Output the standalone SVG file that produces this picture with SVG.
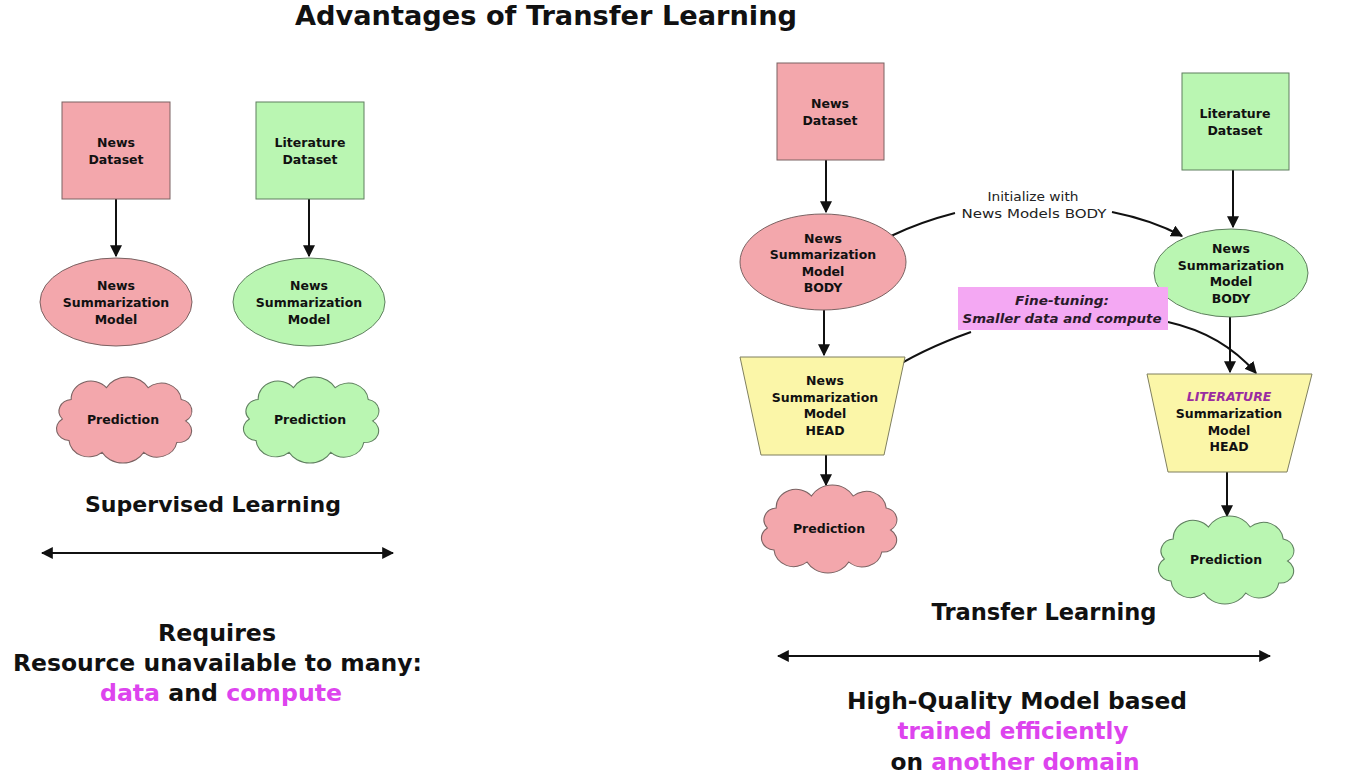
<svg xmlns="http://www.w3.org/2000/svg" width="1351" height="778" viewBox="0 0 1351 778">
<style>
  text { font-family: "DejaVu Sans", "Liberation Sans", sans-serif; fill: #111; }
  .node { font-size: 12.5px; font-weight: bold; text-anchor: middle; }
  .big { font-size: 23.5px; font-weight: bold; text-anchor: middle; }
  .mag { fill: #dd44ee; }
  .pink { fill: #f3a7ac; stroke: #7a6262; stroke-width: 1; }
  .green { fill: #baf6b2; stroke: #5f7f5f; stroke-width: 1; }
  .yellow { fill: #fbf6a8; stroke: #7f7f5f; stroke-width: 1; }
  .edge { fill: none; stroke: #111; stroke-width: 2; }
  .lbl { font-size: 12.5px; text-anchor: middle; fill: #222; }
  .ft { font-size: 13px; font-weight: bold; font-style: italic; text-anchor: middle; fill: #2a1a2a; }
</style>
<defs>
  <marker id="ah" viewBox="0 0 10 10" refX="9" refY="5" markerWidth="6" markerHeight="6" orient="auto-start-reverse" markerUnits="strokeWidth">
    <path d="M0 0 L10 5 L0 10 z" fill="#111"/>
  </marker>
  <path id="cloud" d="M -48 -20 A 18 18 0 0 1 -16 -32 A 22 22 0 0 1 22 -32 A 18 18 0 0 1 52 -20 A 12 12 0 0 1 56 2 A 12 12 0 0 1 48 24 A 18 18 0 0 1 18 34 A 22 22 0 0 1 -20 34 A 18 18 0 0 1 -50 22 A 12 12 0 0 1 -56 0 A 12 12 0 0 1 -48 -20 Z"/>
</defs>
<rect width="1351" height="778" fill="#ffffff"/>

<text x="546" y="25" textLength="502" lengthAdjust="spacingAndGlyphs" style="font-size:27px;font-weight:bold;text-anchor:middle">Advantages of Transfer Learning</text>

<g id="connectors">
  <line class="edge" x1="116" y1="199" x2="116" y2="256" marker-end="url(#ah)"/>
  <line class="edge" x1="309" y1="199" x2="309" y2="256" marker-end="url(#ah)"/>
  <line class="edge" x1="826" y1="160" x2="826" y2="212" marker-end="url(#ah)"/>
  <line class="edge" x1="824" y1="310" x2="824" y2="355" marker-end="url(#ah)"/>
  <line class="edge" x1="826" y1="455" x2="826" y2="485" marker-end="url(#ah)"/>
  <line class="edge" x1="1233" y1="170" x2="1233" y2="227" marker-end="url(#ah)"/>
  <line class="edge" x1="1230" y1="317" x2="1230" y2="372" marker-end="url(#ah)"/>
  <line class="edge" x1="1227" y1="472" x2="1227" y2="516" marker-end="url(#ah)"/>
  <path class="edge" d="M 891 236 Q 920 222 955 213"/>
  <path class="edge" d="M 1112 212 Q 1152 220 1182 236" marker-end="url(#ah)"/>
  <path class="edge" d="M 971 332 Q 920 350 884 374"/>
  <path class="edge" d="M 1168 322 Q 1222 334 1256 373" marker-end="url(#ah)"/>
  <line class="edge" x1="42" y1="553" x2="393" y2="553" marker-start="url(#ah)" marker-end="url(#ah)"/>
  <line class="edge" x1="778" y1="656" x2="1270" y2="656" marker-start="url(#ah)" marker-end="url(#ah)"/>
</g>

<g id="sl-news-dataset">
  <rect class="pink" x="62" y="102" width="108" height="97"/>
  <text class="node" x="116" y="147">News</text>
  <text class="node" x="116" y="164">Dataset</text>
</g>
<g id="sl-lit-dataset">
  <rect class="green" x="256" y="102" width="108" height="97"/>
  <text class="node" x="310" y="147">Literature</text>
  <text class="node" x="310" y="164">Dataset</text>
</g>
<g id="sl-news-model">
  <ellipse class="pink" cx="116" cy="302" rx="76" ry="44"/>
  <text class="node" x="116" y="290">News</text>
  <text class="node" x="116" y="307">Summarization</text>
  <text class="node" x="116" y="324">Model</text>
</g>
<g id="sl-lit-model">
  <ellipse class="green" cx="309" cy="302" rx="76" ry="44"/>
  <text class="node" x="309" y="290">News</text>
  <text class="node" x="309" y="307">Summarization</text>
  <text class="node" x="309" y="324">Model</text>
</g>
<g id="sl-news-pred">
  <use href="#cloud" class="pink" transform="translate(124,419) scale(1.1,0.98)"/>
  <text class="node" x="123" y="424">Prediction</text>
</g>
<g id="sl-lit-pred">
  <use href="#cloud" class="green" transform="translate(311,419) scale(1.1,0.98)"/>
  <text class="node" x="310" y="424">Prediction</text>
</g>

<g id="sl-labels">
  <text class="big" x="213" y="512" textLength="256" lengthAdjust="spacingAndGlyphs" style="font-size:22px">Supervised Learning</text>
  <text class="big" x="217" y="641" textLength="118" lengthAdjust="spacingAndGlyphs">Requires</text>
  <text class="big" x="217.5" y="671" textLength="409" lengthAdjust="spacingAndGlyphs">Resource unavailable to many:</text>
  <text class="big" x="221" y="701" textLength="242" lengthAdjust="spacingAndGlyphs"><tspan class="mag">data</tspan> and <tspan class="mag">compute</tspan></text>
</g>

<g id="tl-news-dataset">
  <rect class="pink" x="777" y="63" width="107" height="97"/>
  <text class="node" x="830" y="108">News</text>
  <text class="node" x="830" y="125">Dataset</text>
</g>
<g id="tl-news-body">
  <ellipse class="pink" cx="823" cy="262" rx="83" ry="48"/>
  <text class="node" x="823" y="243">News</text>
  <text class="node" x="823" y="259">Summarization</text>
  <text class="node" x="823" y="276">Model</text>
  <text class="node" x="823" y="292">BODY</text>
</g>
<g id="tl-news-head">
  <polygon class="yellow" points="740,357 905,357 884,455 761,455"/>
  <text class="node" x="825" y="385">News</text>
  <text class="node" x="825" y="402">Summarization</text>
  <text class="node" x="825" y="418">Model</text>
  <text class="node" x="825" y="435">HEAD</text>
</g>
<g id="tl-news-pred">
  <use href="#cloud" class="pink" transform="translate(829,528) scale(1.1,1.0)"/>
  <text class="node" x="829" y="533">Prediction</text>
</g>
<g id="tl-lit-dataset">
  <rect class="green" x="1182" y="73" width="107" height="97"/>
  <text class="node" x="1235" y="118">Literature</text>
  <text class="node" x="1235" y="135">Dataset</text>
</g>
<g id="tl-lit-body">
  <ellipse class="green" cx="1231" cy="273" rx="77" ry="44"/>
  <text class="node" x="1231" y="253">News</text>
  <text class="node" x="1231" y="270">Summarization</text>
  <text class="node" x="1231" y="286">Model</text>
  <text class="node" x="1231" y="303">BODY</text>
</g>
<g id="tl-lit-head">
  <polygon class="yellow" points="1147,374 1312,374 1287,472 1168,472"/>
  <text class="node" x="1229" y="401" style="font-style:italic;fill:#9a2ca0">LITERATURE</text>
  <text class="node" x="1229" y="418">Summarization</text>
  <text class="node" x="1229" y="435">Model</text>
  <text class="node" x="1229" y="451">HEAD</text>
</g>
<g id="tl-lit-pred">
  <use href="#cloud" class="green" transform="translate(1226,559) scale(1.1,1.0)"/>
  <text class="node" x="1226" y="564">Prediction</text>
</g>
<g id="init-label">
  <text class="lbl" x="1033" y="201" textLength="91" lengthAdjust="spacingAndGlyphs">Initialize with</text>
  <text class="lbl" x="1034" y="218" textLength="145" lengthAdjust="spacingAndGlyphs">News Models BODY</text>
</g>
<g id="finetune-label">
  <rect x="958" y="287" width="210" height="43" fill="#f4a8f3"/>
  <text class="ft" x="1062" y="305" textLength="94" lengthAdjust="spacingAndGlyphs">Fine-tuning:</text>
  <text class="ft" x="1062" y="323" textLength="199" lengthAdjust="spacingAndGlyphs">Smaller data and compute</text>
</g>
<g id="tl-labels">
  <text class="big" x="1044" y="620" textLength="225" lengthAdjust="spacingAndGlyphs" style="font-size:22.5px">Transfer Learning</text>
  <text class="big" x="1017" y="709" textLength="340" lengthAdjust="spacingAndGlyphs">High-Quality Model based</text>
  <text class="big" x="1013" y="739" textLength="231" lengthAdjust="spacingAndGlyphs"><tspan class="mag">trained efficiently</tspan></text>
  <text class="big" x="1015" y="770" textLength="249" lengthAdjust="spacingAndGlyphs">on <tspan class="mag">another domain</tspan></text>
</g>
</svg>
